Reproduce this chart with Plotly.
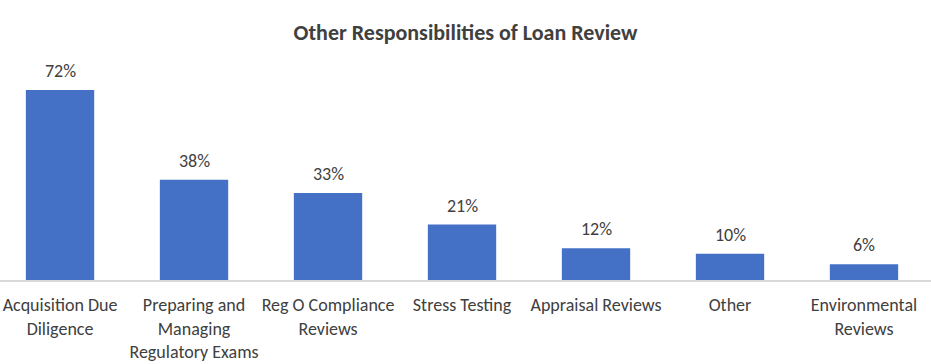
import plotly.graph_objects as go

categories = ["Acquisition Due<br>Diligence", "Preparing and<br>Managing<br>Regulatory Exams",
              "Reg O Compliance<br>Reviews", "Stress Testing", "Appraisal Reviews",
              "Other", "Environmental<br>Reviews"]
values = [72, 38, 33, 21, 12, 10, 6]
value_labels = [f"{v}%" for v in values]

FONT = "Carlito, Calibri, 'Liberation Sans Narrow', 'Open Sans', sans-serif"
TXT = "#404040"

fig = go.Figure(go.Bar(
    x=list(range(len(categories))), y=values,
    width=0.51,
    marker=dict(color="#4471C6", line=dict(width=0)),
    hoverinfo="skip",
))

for i, (v, lab) in enumerate(zip(values, value_labels)):
    fig.add_annotation(x=i, y=v, text=lab, showarrow=False, yanchor="bottom",
                       yshift=6, font=dict(family=FONT, size=18, color=TXT))

fig.update_layout(
    width=931, height=364,
    margin=dict(l=0, r=0, t=69, b=84, autoexpand=False),
    paper_bgcolor="white", plot_bgcolor="white",
    showlegend=False,
    title=dict(text="<b>Other Responsibilities of Loan Review</b>", x=0.5, xanchor="center",
               y=0.912, yanchor="middle", automargin=False,
               font=dict(family=FONT, size=22, color=TXT)),
    xaxis=dict(tickmode="array", tickvals=list(range(len(categories))), ticktext=categories,
               range=[-0.448, 6.5], showline=True, linecolor="#D9D9D9", linewidth=1.5,
               showgrid=False, zeroline=False, ticks="", automargin=False,
               ticklabelstandoff=8,
               tickfont=dict(family=FONT, size=18, color=TXT)),
    yaxis=dict(range=[0, 80], visible=False, showgrid=False, zeroline=False, automargin=False),
)

fig.write_html("out.html", config={"displayModeBar": False},
               post_script="document.body.style.margin='0';")
